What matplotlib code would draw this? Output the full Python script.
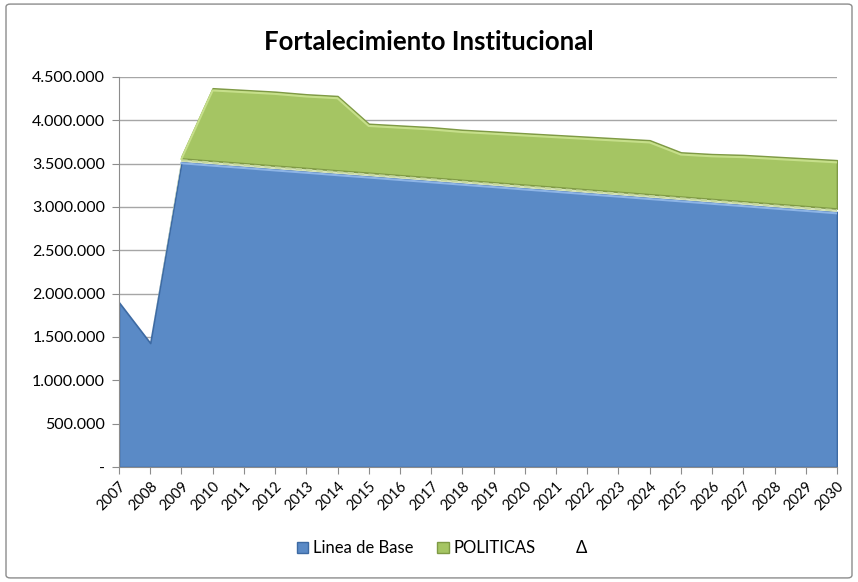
import matplotlib
matplotlib.use("Agg")
import matplotlib.pyplot as plt
from matplotlib.patches import Patch, FancyBboxPatch
from matplotlib.ticker import FuncFormatter
import numpy as np

plt.rcParams['font.family'] = ['Lato', 'DejaVu Sans']

years = [str(y) for y in range(2007, 2031)]

linea_base = [1900000, 1430000, 3520000, 3492000, 3465000, 3437000, 3410000, 3382000,
              3355000, 3327000, 3300000, 3272000, 3245000, 3217000, 3190000, 3162000,
              3135000, 3107000, 3080000, 3052000, 3025000, 2997000, 2970000, 2942000]

delta = [0, 0, 40000, 40000, 40000, 40000, 40000, 40000,
         40000, 40000, 40000, 40000, 40000, 40000, 40000, 40000,
         40000, 40000, 40000, 40000, 40000, 40000, 40000, 40000]

politicas = [0, 0, 20000, 838000, 845000, 853000, 850000, 858000,
             565000, 573000, 580000, 578000, 585000, 593000, 600000, 608000,
             615000, 623000, 510000, 518000, 535000, 543000, 550000, 558000]

fig = plt.figure(figsize=(8.58, 5.82), dpi=100)

# outer chart border
fig.patches.append(FancyBboxPatch((0.007, 0.007), 0.986, 0.986, boxstyle="round,pad=0,rounding_size=0.005",
                                  transform=fig.transFigure, fill=False, edgecolor='#8c8c8c', lw=1))

ax = fig.add_axes([0.1387, 0.1976, 0.8368, 0.6701])
x = np.arange(len(years))

base = np.array(linea_base)
mid = base + np.array(delta)
top = mid + np.array(politicas)

ax.fill_between(x, 0, base, facecolor='#5a8ac6', edgecolor='#3d6aa3', lw=1.2, zorder=2)
ax.plot(x[2:], base[2:] - 15000, color='#8db4e6', lw=1.5, zorder=3)
ax.fill_between(x, base, mid, facecolor='#d7e4bc', edgecolor='none', zorder=2)
ax.plot(x[2:], (base[2:] + mid[2:]) / 2, color='#c4d79b', lw=1.5, ls=(0, (3, 2)), zorder=3)
ax.fill_between(x, mid, top, where=np.array(politicas) > 0, facecolor='#a5c563',
                edgecolor='#7f9a45', lw=1.2, zorder=2)
ax.plot(x[2:], top[2:] - 25000, color='#c6df8a', lw=1.5, zorder=3)

ax.set_xlim(0, len(years) - 1)
ax.set_ylim(0, 4500000)
ax.set_yticks(np.arange(0, 4500001, 500000))
ax.yaxis.set_major_formatter(FuncFormatter(lambda v, p: '-' if v == 0 else f'{int(v):,}'.replace(',', '.')))
ax.set_xticks(x)
ax.set_xticklabels(years, rotation=45, ha='right', rotation_mode='anchor', fontsize=10.5)
ax.grid(axis='y', color='#a6a6a6', lw=1, zorder=0)
ax.set_axisbelow(True)

for s in ['top', 'right']:
    ax.spines[s].set_visible(False)
for s in ['left', 'bottom']:
    ax.spines[s].set_color('#8c8c8c')
ax.tick_params(axis='both', colors='#8c8c8c', labelcolor='black', length=5)
ax.tick_params(axis='y', pad=5, labelsize=11.5)

fig.text(0.5, 0.928, 'Fortalecimiento Institucional', ha='center', va='center',
         fontsize=18.5, fontweight='bold')

handles = [Patch(facecolor='#5a8ac6', edgecolor='#3d6aa3'),
           Patch(facecolor='#a5c563', edgecolor='#7f9a45'),
           Patch(facecolor='none', edgecolor='none')]
fig.legend(handles, ['Linea de Base', 'POLITICAS', 'Δ'], loc='center', bbox_to_anchor=(0.515, 0.058),
           ncol=3, frameon=False, fontsize=12, handlelength=0.7, handleheight=0.7,
           handletextpad=0.3, columnspacing=1.4)

plt.savefig('out.png', dpi=100)
